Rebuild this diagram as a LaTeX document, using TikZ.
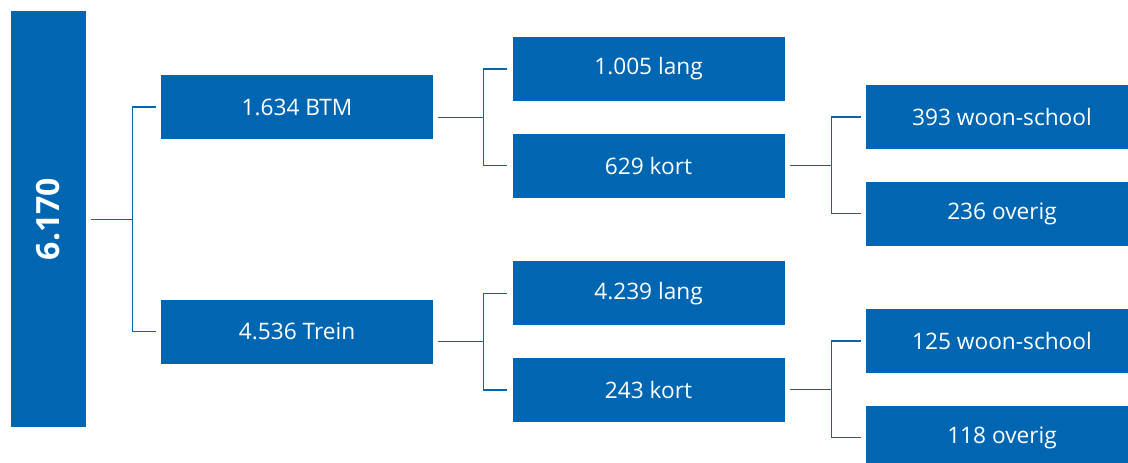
\documentclass[tikz,border=0pt]{standalone}
\usepackage{fontspec}
\setmainfont{Open Sans}
\usepackage{tikz}
\usetikzlibrary{positioning,calc}
\definecolor{ovblue}{RGB}{0,102,178}

\begin{document}
\begin{tikzpicture}[
        x=0.75pt, y=-0.75pt,
        box/.style={rectangle, fill=ovblue, text=white, inner sep=0pt,
            minimum width=204pt, minimum height=48pt,
            font=\fontsize{17}{20}\selectfont},
        total/.style={rectangle, fill=ovblue, inner sep=0pt,
            minimum width=56.25pt, minimum height=312pt},
        link/.style={draw=ovblue, line width=0.9pt, shorten <=3.75pt, shorten >=3.75pt}
    ]
        \clip (0,0) rectangle (1128,463);

        % Total
        \node[total, label={[rotate=90, text=white, font=\bfseries\fontsize{24}{28}\selectfont]center:6.170}] (root) at (48.5,219) {};

        % Vervoerwijze
        \node[box] (btm) at (297,107) {1.634 BTM};
        \node[box, below=120pt of btm] (trein) {4.536 Trein};

        % Afstand
        \node[box] (lang1) at (648.5,69) {1.005 lang};
        \node[box, below=24pt of lang1] (kort1) {629 kort};
        \node[box] (lang2) at (648.5,293.5) {4.239 lang};
        \node[box, below=24pt of lang2] (kort2) {243 kort};

        % Motief
        \node[box] (school1) at (1002,117) {393 woon-school};
        \node[box, below=24pt of school1] (overig1) {236 overig};
        \node[box] (school2) at (1002,341) {125 woon-school};
        \node[box, below=24pt of school2] (overig2) {118 overig};

        % Junctions
        \coordinate (j0) at ($(btm.west)!0.5!(trein.west)+(-28,0)$);
        \coordinate (j1) at ($(lang1.west)!0.5!(kort1.west)+(-29,0)$);
        \coordinate (j2) at ($(lang2.west)!0.5!(kort2.west)+(-29,0)$);
        \coordinate (j3) at ($(school1.west)!0.5!(overig1.west)+(-34,0)$);
        \coordinate (j4) at ($(school2.west)!0.5!(overig2.west)+(-34,0)$);

        % Connectors
        \draw[link, shorten >=0pt] (j0 -| root.east) -- (j0);
        \draw[link] (btm.west) -| (j0) |- (trein.west);
        \draw[link, shorten >=0pt] (j1 -| btm.east) -- (j1);
        \draw[link] (lang1.west) -| (j1) |- (kort1.west);
        \draw[link, shorten >=0pt] (j2 -| trein.east) -- (j2);
        \draw[link] (lang2.west) -| (j2) |- (kort2.west);
        \draw[link, shorten >=0pt] (j3 -| kort1.east) -- (j3);
        \draw[link] (school1.west) -| (j3) |- (overig1.west);
        \draw[link, shorten >=0pt] (j4 -| kort2.east) -- (j4);
        \draw[link] (school2.west) -| (j4) |- (overig2.west);
    \end{tikzpicture}
\end{document}
